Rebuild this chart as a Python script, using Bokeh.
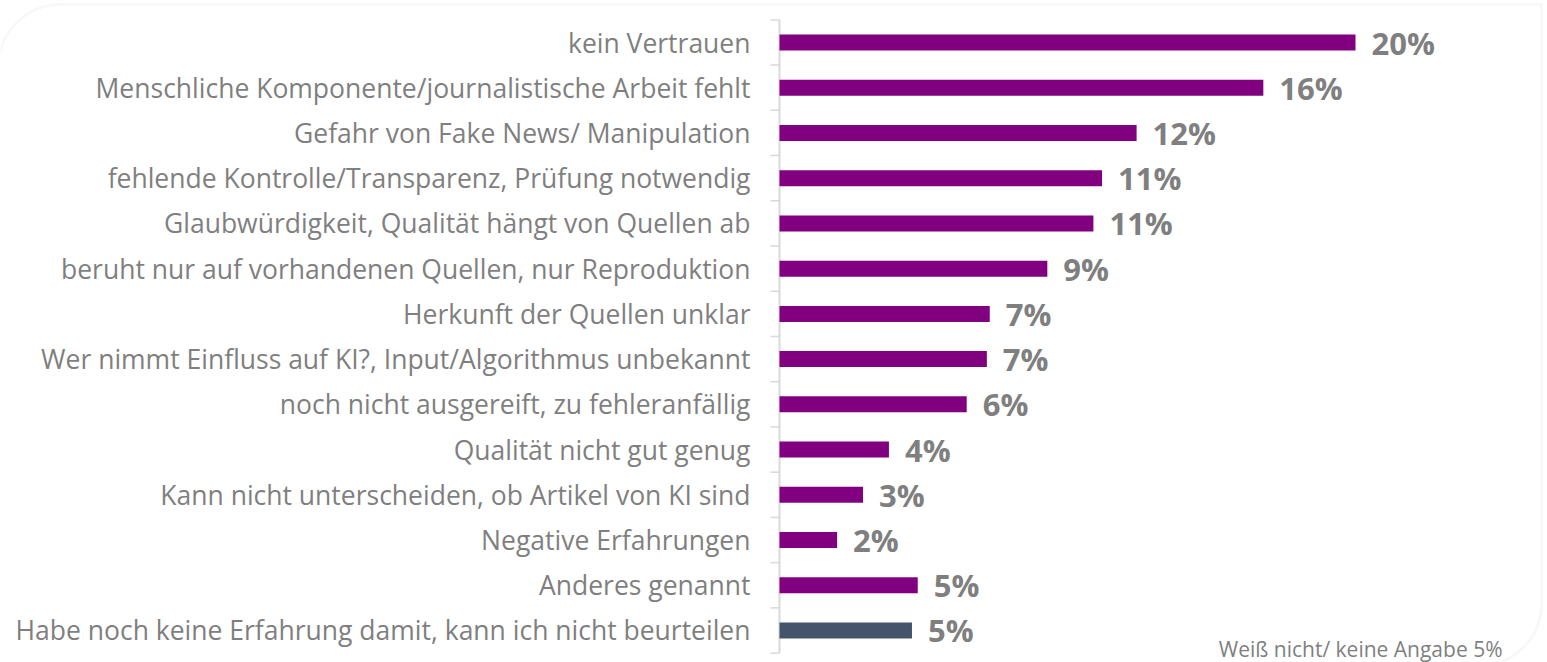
from bokeh.plotting import figure
from bokeh.models import ColumnDataSource, Range1d, BoxAnnotation
from bokeh.core.properties import value
from bokeh.embed import file_html
from bokeh.resources import INLINE

# ---------------- data ----------------
categories = [
    "kein Vertrauen",
    "Menschliche Komponente/journalistische Arbeit fehlt",
    "Gefahr von Fake News/ Manipulation",
    "fehlende Kontrolle/Transparenz, Prüfung notwendig",
    "Glaubwürdigkeit, Qualität hängt von Quellen ab",
    "beruht nur auf vorhandenen Quellen, nur Reproduktion",
    "Herkunft der Quellen unklar",
    "Wer nimmt Einfluss auf KI?, Input/Algorithmus unbekannt",
    "noch nicht ausgereift, zu fehleranfällig",
    "Qualität nicht gut genug",
    "Kann nicht unterscheiden, ob Artikel von KI sind",
    "Negative Erfahrungen",
    "Anderes genannt",
    "Habe noch keine Erfahrung damit, kann ich nicht beurteilen",
]
values = [20.0, 16.8, 12.4, 11.2, 10.9, 9.3, 7.3, 7.2, 6.5, 3.8, 2.9, 2.0, 4.8, 4.6]
value_labels = ["20%", "16%", "12%", "11%", "11%", "9%", "7%", "7%", "6%",
                "4%", "3%", "2%", "5%", "5%"]
bar_colors = ["#800080"] * 13 + ["#44546A"]
note_text = ["Weiß nicht/ keine Angabe 5%"]

# ---------------- layout constants ----------------
W, H = 1547, 662
ZERO_PX = 779          # canvas x of the 0 % line
PX_PER_PCT = 28.8      # pixels per percent
FIRST_PX = 42          # canvas y of first category centre
STEP_PX = 45.23        # pixels per category
n = len(categories)
ypos = [n - 1 - i for i in range(n)]

def X(px):
    return (px - ZERO_PX) / PX_PER_PCT

def Y(py):
    return (n - 1) - (py - FIRST_PX) / STEP_PX

x_range = Range1d(X(0), X(W))
y_range = Range1d(Y(H), Y(0))

p = figure(width=W, height=H, x_range=x_range, y_range=y_range,
           output_backend="svg", toolbar_location=None, min_border=0,
           x_axis_location=None, y_axis_location=None,
           outline_line_color=None, background_fill_color="white",
           border_fill_color="white")
p.grid.visible = False

src = ColumnDataSource(dict(y=ypos, cat=categories, val=values,
                            lab=value_labels, color=bar_colors))

# rounded panel border
p.add_layout(BoxAnnotation(left=X(-2), right=X(1541), top=Y(4), bottom=Y(665),
                           fill_alpha=0, line_color="#e3e3e3", line_width=2.5,
                           border_radius=dict(top_left=62, top_right=0,
                                              bottom_right=62, bottom_left=0),
                           level="underlay"))

# axis line with ticks between categories
top_b = (n - 1) + 0.5
bot_b = -0.5
p.segment(x0=[0], y0=[top_b], x1=[0], y1=[bot_b], line_color="#d9d9d9", line_width=2)
bounds = [i - 0.5 for i in range(n + 1)]
p.segment(x0=[0] * len(bounds), y0=bounds, x1=[-9 / PX_PER_PCT] * len(bounds), y1=bounds,
          line_color="#d9d9d9", line_width=1.5)

# bars
p.hbar(y="y", left=0, right="val", height=16 / STEP_PX, fill_color="color",
       line_color=None, source=src)

# category labels
p.text(x=0, y="y", text="cat", x_offset=-29, text_align="right", text_baseline="middle",
       text_font=value("Open Sans"), text_font_size="26.5px", text_color="#7f7f7f",
       source=src)

# value labels
p.text(x="val", y="y", text="lab", x_offset=16, text_align="left", text_baseline="middle",
       text_font=value("Open Sans"), text_font_size="31px", text_font_style="bold",
       text_color="#7f7f7f", source=src)

# note
p.text(x=[X(1502)], y=[Y(648)], text=note_text, text_align="right",
       text_baseline="middle", text_font=value("Open Sans"),
       text_font_size="21px", text_color="#7f7f7f")

open("out.html", "w").write(file_html(p, INLINE))
